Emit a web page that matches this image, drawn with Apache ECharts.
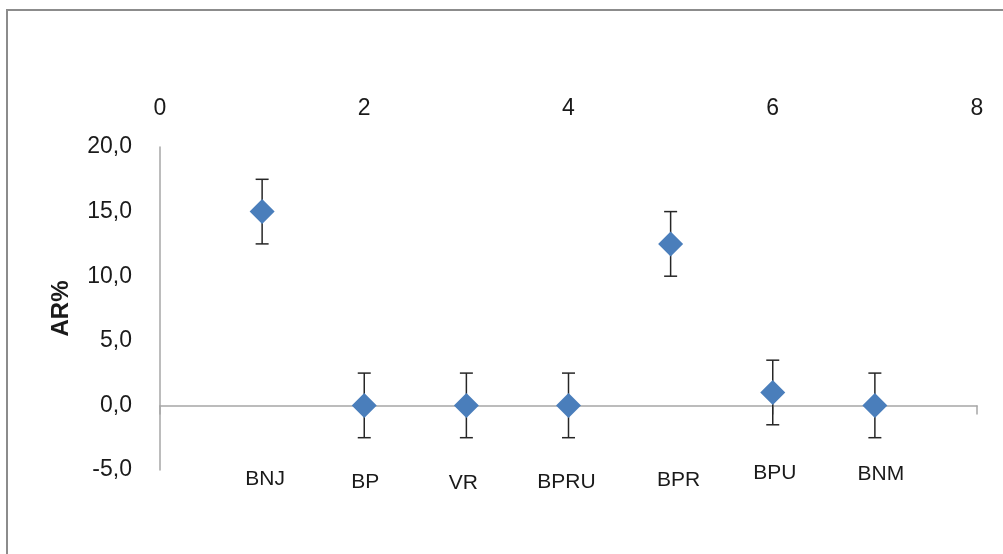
<!DOCTYPE html>
<html>
<head>
<meta charset="utf-8">
<script src="https://cdn.jsdelivr.net/npm/echarts@6/dist/echarts.min.js"></script>
<style>
  html, body { margin: 0; padding: 0; background: #ffffff; }
  #chart { width: 1003px; height: 554px; }
</style>
</head>
<body>
<div id="chart"></div>
<script>
// Treatment groups, their position on the x scale, AR% means and error half-widths
const categories = ['BNJ', 'BP', 'VR', 'BPRU', 'BPR', 'BPU', 'BNM'];
const xPositions = [1, 2, 3, 4, 5, 6, 7];
const arValues = [15.0, 0.0, 0.0, 0.0, 12.5, 1.0, 0.0];
const errValues = [2.5, 2.5, 2.5, 2.5, 2.5, 2.5, 2.5];
const xTicks = [0, 2, 4, 6, 8];
const yTicks = [-5, 0, 5, 10, 15, 20];

// Small pixel nudges for the group name labels under the plot [dx, dy]
const labelNudge = [[3, -1], [1, 2], [-3, 3], [-2, 2], [8, 0], [2, -7], [6, -6]];

const FONT = '"Liberation Sans", Arial, sans-serif';
const TEXT = '#1a1a1a';
const AXIS = '#a6a6a6';
const BLUE = '#4a7ebb';

const chart = echarts.init(document.getElementById('chart'), null, { renderer: 'canvas' });

const points = xPositions.map((x, i) => [x, arValues[i]]);
const bars = xPositions.map((x, i) => [x, arValues[i] - errValues[i], arValues[i] + errValues[i]]);
const labelRow = xPositions.map((x, i) => ({
  value: [x, yTicks[0]],
  name: categories[i],
  label: { offset: labelNudge[i] }
}));

chart.setOption({
  backgroundColor: '#ffffff',
  animation: false,
  graphic: [{
    type: 'rect',
    shape: { x: 7, y: 10, width: 1100, height: 700 },
    style: { fill: 'none', stroke: '#8c8c8c', lineWidth: 2 },
    silent: true
  }],
  grid: { left: 160, right: 26, top: 147, bottom: 84 },
  xAxis: [
    {
      // value labels across the top
      type: 'value', position: 'top',
      min: xTicks[0], max: xTicks[xTicks.length - 1], interval: 2,
      axisLine: { show: false, onZero: false },
      axisTick: { show: false },
      splitLine: { show: false },
      axisLabel: { color: TEXT, fontFamily: FONT, fontSize: 23, margin: 27 }
    },
    {
      // horizontal axis line through zero
      type: 'value', position: 'bottom',
      min: xTicks[0], max: xTicks[xTicks.length - 1], interval: 2,
      axisLine: { show: true, onZero: true, lineStyle: { color: AXIS, width: 1.5 } },
      axisTick: { show: true, length: 9, lineStyle: { color: AXIS, width: 1.5 } },
      splitLine: { show: false },
      axisLabel: { show: false }
    }
  ],
  yAxis: {
    type: 'value',
    min: yTicks[0], max: yTicks[yTicks.length - 1], interval: 5,
    name: 'AR%', nameLocation: 'middle', nameGap: 87, nameRotate: 90,
    nameTextStyle: { color: TEXT, fontFamily: FONT, fontSize: 24, fontWeight: 'bold' },
    axisLine: { show: true, onZero: false, lineStyle: { color: AXIS, width: 1.5 } },
    axisTick: { show: false },
    splitLine: { show: false },
    axisLabel: {
      color: TEXT, fontFamily: FONT, fontSize: 23, margin: 28,
      formatter: v => v.toFixed(1).replace('.', ',')
    }
  },
  series: [
    {
      // vertical error bars with caps
      type: 'custom',
      xAxisIndex: 1,
      z: 2,
      data: bars,
      renderItem: function (params, api) {
        const x = api.value(0);
        const lo = api.coord([x, api.value(1)]);
        const hi = api.coord([x, api.value(2)]);
        const half = 6.5;
        const st = { stroke: '#262626', lineWidth: 1.5 };
        return {
          type: 'group',
          children: [
            { type: 'line', shape: { x1: lo[0], y1: lo[1], x2: hi[0], y2: hi[1] }, style: st },
            { type: 'line', shape: { x1: lo[0] - half, y1: lo[1], x2: lo[0] + half, y2: lo[1] }, style: st },
            { type: 'line', shape: { x1: hi[0] - half, y1: hi[1], x2: hi[0] + half, y2: hi[1] }, style: st }
          ]
        };
      }
    },
    {
      type: 'scatter',
      xAxisIndex: 1,
      z: 3,
      symbol: 'diamond',
      symbolSize: [25, 25],
      itemStyle: { color: BLUE, opacity: 1 },
      data: points
    },
    {
      // group names below the plot area
      type: 'scatter',
      xAxisIndex: 1,
      z: 4,
      symbolSize: 0,
      clip: false,
      silent: true,
      itemStyle: { opacity: 1 },
      data: labelRow,
      label: {
        show: true, position: 'bottom', distance: 0,
        formatter: p => p.name,
        color: TEXT, fontFamily: FONT, fontSize: 21
      }
    }
  ]
});
</script>
</body>
</html>
